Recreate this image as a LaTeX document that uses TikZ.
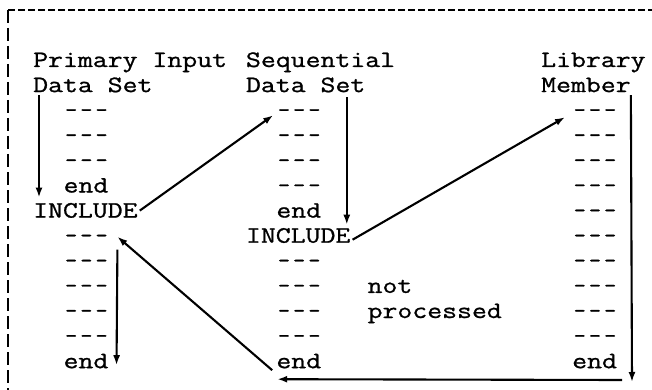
\documentclass[tikz,border=0pt]{standalone}
\usepackage{fontspec}
\newfontfamily\courfont[FakeStretch=1.232,FakeBold=1.0]{Latin Modern Mono}
\newfontfamily\dshfont[FakeBold=1.0]{Latin Modern Mono}
\newcommand{\onedash}{\makebox[15.2pt]{\dshfont\fontsize{23.5}{25}\selectfont -}}
\newcommand{\dsh}{\onedash\onedash\onedash}
\usetikzlibrary{arrows.meta}
\begin{document}
\begin{tikzpicture}[x=1pt,y=-1pt,
  txt/.style={anchor=base west,inner sep=0pt,font=\courfont\fontsize{23.5}{25}\selectfont},
  arr/.style={line width=2.1pt,-{Latex[length=10pt,width=7pt]}},
  frame/.style={line width=2pt}]
\useasboundingbox (0,0) rectangle (652,390);
% frame
\draw[frame,dash pattern=on 7pt off 3pt] (8,10) -- (652,10);
\draw[frame,dash pattern=on 13pt off 5pt] (8,10) -- (8,390);
% left column
\node[txt] (lh1) at (33,67) {Primary Input};
\node[txt] (lh2) at (33,92.1) {Data Set};
\foreach \i in {2,3,4} \node[txt] (l\i) at (63.4,{67+25.1*\i}) {\dsh};
\node[txt] (l5) at (63.4,192.5) {end};
\node[txt] (linc) at (33,217.6) {INCLUDE};
\foreach \i in {7,...,11} \node[txt] (l\i) at (63.4,{67+25.1*\i}) {\dsh};
\node[txt] (l12) at (63.4,368.2) {end};
% middle column
\node[txt] (mh1) at (245.8,67) {Sequential};
\node[txt] (mh2) at (245.8,92.1) {Data Set};
\foreach \i in {2,...,5} \node[txt] (m\i) at (276.2,{67+25.1*\i}) {\dsh};
\node[txt] (m6) at (276.2,217.6) {end};
\node[txt] (minc) at (245.8,242.7) {INCLUDE};
\foreach \i in {8,...,11} \node[txt] (m\i) at (276.2,{67+25.1*\i}) {\dsh};
\node[txt] (m12) at (276.2,368.2) {end};
\node[txt] (np1) at (367.4,292.9) {not};
\node[txt] (np2) at (367.4,318) {processed};
% right column
\node[txt] (rh1) at (541,67) {Library};
\node[txt] (rh2) at (541,92.1) {Member};
\foreach \i in {2,...,11} \node[txt] (r\i) at (572,{67+25.1*\i}) {\dsh};
\node[txt] (r12) at (572,368.2) {end};
\coordinate (rb) at (632,382);
% arrows
\draw[arr] ([shift={(6,3)}]lh2.base west) -- ([shift={(6,-20)}]linc.base west);
\draw[arr] ([shift={(2,-7)}]linc.base east) -- ([shift={(-3,-2)}]m2.base west);
\draw[arr] ([shift={(101,5)}]mh2.base west) -- ([shift={(101,-18)}]minc.base west);
\draw[arr] ([shift={(2,-3)}]minc.base east) -- ([shift={(-7,0)}]r2.base west);
\draw[arr] ([shift={(0,3)}]rh2.base east) -- (rb);
\draw[arr] ([shift={(-10,-2)}]rb) -- ([shift={(1,11)}]m12.base west);
\draw[arr] ([shift={(-4,2)}]m12.base west) -- ([shift={(8,-6)}]l7.base east);
\draw[arr] ([shift={(8,7)}]l7.base east) -- ([shift={(8,-3)}]l12.base east);
\end{tikzpicture}
\end{document}
